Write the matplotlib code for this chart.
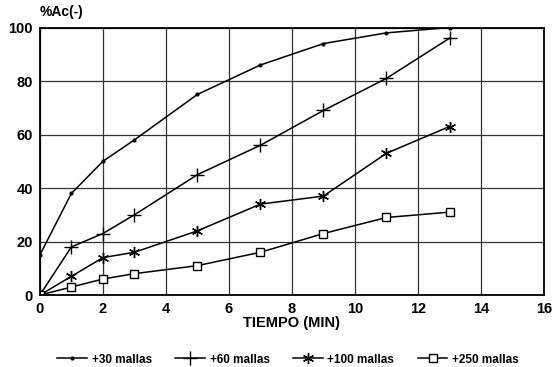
import matplotlib
matplotlib.use('Agg')
import matplotlib.pyplot as plt

tiempo = [0, 1, 2, 3, 5, 7, 9, 11, 13]
m30 = [15, 38, 50, 58, 75, 86, 94, 98, 100]
m60 = [0, 18, 23, 30, 45, 56, 69, 81, 96]
m100 = [0, 7, 14, 16, 24, 34, 37, 53, 63]
m250 = [0, 3, 6, 8, 11, 16, 23, 29, 31]

labels = ['+30 mallas', '+60 mallas', '+100 mallas', '+250 mallas']

plt.rcParams['font.family'] = ['Liberation Sans', 'DejaVu Sans']
plt.rcParams['font.weight'] = 'bold'

fig = plt.figure(figsize=(5.54, 3.67), dpi=100)
ax = fig.add_axes([0.072, 0.196, 0.910, 0.729])

ax.plot(tiempo, m30, color='black', lw=1.1, marker='.', ms=4, label=labels[0])
ax.plot(tiempo, m60, color='black', lw=1.1, marker='+', ms=10, mew=1.0, label=labels[1])
ax.plot(tiempo, m100, color='black', lw=1.1, marker=(6, 2, 0), ms=8, mew=1.0, label=labels[2])
ax.plot(tiempo, m250, color='black', lw=1.1, marker='s', ms=6, mfc='white', mew=1.0, label=labels[3])

ax.set_xlim(0, 16)
ax.set_ylim(0, 100)
ax.set_xticks(range(0, 17, 2))
ax.set_yticks(range(0, 101, 20))
ax.tick_params(length=0, labelsize=10.5, pad=5)
for lab in ax.get_xticklabels() + ax.get_yticklabels():
    lab.set_fontweight('bold')
ax.grid(True, color='#333333', lw=0.9)
for s in ax.spines.values():
    s.set_linewidth(1.3)

ax.set_xlabel('TIEMPO (MIN)', fontsize=10.5, fontweight='bold', labelpad=0)
ax.text(0.0, 1.03, '%Ac(-)', transform=ax.transAxes, fontsize=10, fontweight='bold', ha='left', va='bottom')

fig.legend(loc='lower center', ncol=4, frameon=False, fontsize=8.5, bbox_to_anchor=(0.52, -0.025),
           handlelength=2.5, columnspacing=2.0, handletextpad=0.4)

fig.savefig('out.png', dpi=100)
